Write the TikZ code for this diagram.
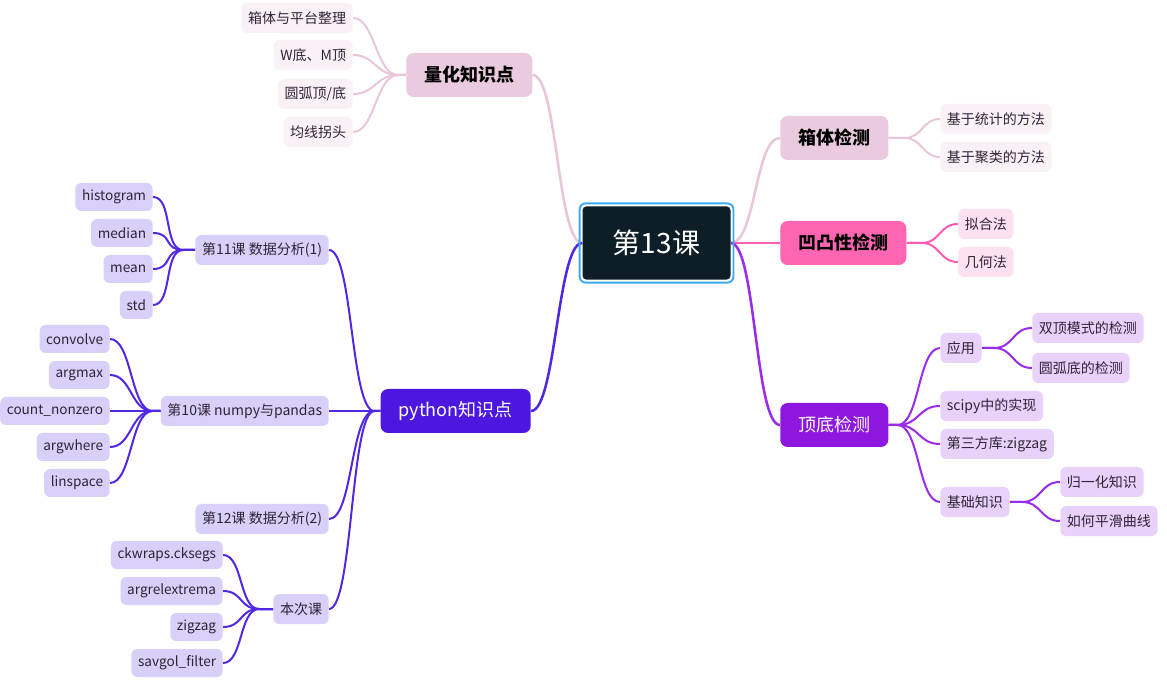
\documentclass[tikz,border=0pt]{standalone}
\usepackage{fontspec}
\setmainfont{Noto Sans CJK SC}
\usetikzlibrary{backgrounds}
\definecolor{pkline}{HTML}{E8C6DA}
\definecolor{pkmain}{HTML}{EACADE}
\definecolor{pkkid}{HTML}{FAF1F6}
\definecolor{hpline}{HTML}{FF5DB1}
\definecolor{hpmain}{HTML}{FE66B4}
\definecolor{hpkid}{HTML}{FDE1F0}
\definecolor{vline}{HTML}{9A2BEA}
\definecolor{vmain}{HTML}{8D17DF}
\definecolor{vkidc}{HTML}{E9D2F9}
\definecolor{bline}{HTML}{5028E4}
\definecolor{bmain}{HTML}{4C17DF}
\definecolor{bkidc}{HTML}{D9D0F9}
\definecolor{ctrfill}{HTML}{0E1E26}
\definecolor{ctrborder}{HTML}{3AA9F4}
\definecolor{kidtext}{HTML}{2E2438}
\newcommand{\mmL}[5]{\draw[#1] (#2.west) -- ++(-#4,0) .. controls +(-#5,0) and +(#5,0) .. (#3.east);}
\newcommand{\mmR}[5]{\draw[#1] (#2.east) -- ++(#4,0) .. controls +(#5,0) and +(-#5,0) .. (#3.west);}
\begin{document}
\begin{tikzpicture}[x=0.75pt,y=-0.75pt,
  kid/.style={rounded corners=4.5pt, minimum height=22.5pt, inner xsep=5pt, inner ysep=0pt, text=kidtext, font=\fontsize{10.5pt}{12pt}\selectfont},
  leaf/.style={kid, minimum height=21pt, font=\fontsize{10.2pt}{12pt}\selectfont},
  topic/.style={rounded corners=5.5pt, minimum height=33pt, inner xsep=13.5pt, inner ysep=0pt, font=\fontsize{13.5pt}{16pt}\selectfont},
  pkid/.style={kid, fill=pkkid},
  hkid/.style={kid, fill=hpkid},
  vkid/.style={kid, fill=vkidc},
  bkid/.style={kid, fill=bkidc},
  bleaf/.style={leaf, fill=bkidc},
  ptopic/.style={topic, fill=pkmain, text=black, font=\fontsize{13.5pt}{16pt}\selectfont\bfseries},
  htopic/.style={topic, fill=hpmain, text=black, font=\fontsize{13.5pt}{16pt}\selectfont\bfseries},
  vtopic/.style={topic, fill=vmain, text=white},
  btopic/.style={topic, fill=bmain, text=white},
  cp/.style={pkline, line width=1.5pt},
  ch/.style={hpline, line width=1.5pt},
  cv/.style={vline, line width=1.5pt},
  cb/.style={bline, line width=1.5pt},
  mainc/.style={line width=1.9pt}
]
\useasboundingbox (0,0) rectangle (1167,680);

% center
\node[fill=ctrfill, text=white, rounded corners=3pt, minimum width=111pt, minimum height=55pt,
  font=\fontsize{21pt}{24pt}\selectfont] (ctr) at (656.5,243) {第13课};
\draw[ctrborder, line width=1.4pt, rounded corners=4.5pt]
  ([xshift=-2pt,yshift=2pt]ctr.north west) rectangle ([xshift=2pt,yshift=-2pt]ctr.south east);

% 量化知识点
\node[ptopic, anchor=west] (lh) at (406,75) {量化知识点};
\node[pkid, anchor=east] (q1) at (353,18) {箱体与平台整理};
\node[pkid, anchor=east] (q2) at (353,55) {W底、M顶};
\node[pkid, anchor=east] (q3) at (353,94) {圆弧顶/底};
\node[pkid, anchor=east] (q4) at (353,132) {均线拐头};

% 箱体检测
\node[ptopic, anchor=west] (xt) at (780,138) {箱体检测};
\node[pkid, anchor=west] (x1) at (940,119) {基于统计的方法};
\node[pkid, anchor=west] (x2) at (940,157) {基于聚类的方法};

% 凹凸性检测
\node[htopic, anchor=west] (ao) at (780,243) {凹凸性检测};
\node[hkid, anchor=west] (a1) at (958,224) {拟合法};
\node[hkid, anchor=west] (a2) at (958,262) {几何法};

% 顶底检测
\node[vtopic, anchor=west] (dd) at (780,425) {顶底检测};
\node[vkid, anchor=west] (d1) at (940,348) {应用};
\node[vkid, anchor=west] (d11) at (1032,328) {双顶模式的检测};
\node[vkid, anchor=west] (d12) at (1032,368) {圆弧底的检测};
\node[vkid, anchor=west] (d2) at (940,406) {scipy中的实现};
\node[vkid, anchor=west] (d3) at (940,444) {第三方库:zigzag};
\node[vkid, anchor=west] (d4) at (940,502) {基础知识};
\node[vkid, anchor=west] (d41) at (1060,482) {归一化知识};
\node[vkid, anchor=west] (d42) at (1060,521) {如何平滑曲线};

% python知识点
\node[btopic, anchor=east] (py) at (531,411) {python知识点};
\node[bkid, anchor=east] (b1) at (329,250) {第11课 数据分析(1)};
\node[bleaf, anchor=east] (b11) at (153,197) {histogram};
\node[bleaf, anchor=east] (b12) at (153,233) {median};
\node[bleaf, anchor=east] (b13) at (153,269) {mean};
\node[bleaf, anchor=east] (b14) at (153,305) {std};
\node[bkid, anchor=east] (b2) at (329,411) {第10课 numpy与pandas};
\node[bleaf, anchor=east] (b21) at (110,339) {convolve};
\node[bleaf, anchor=east] (b22) at (110,375) {argmax};
\node[bleaf, anchor=east] (b23) at (110,411) {count\_nonzero};
\node[bleaf, anchor=east] (b24) at (110,447) {argwhere};
\node[bleaf, anchor=east] (b25) at (110,483) {linspace};
\node[bkid, anchor=east] (b3) at (329,519) {第12课 数据分析(2)};
\node[bkid, anchor=east] (b4) at (329,609) {本次课};
\node[bleaf, anchor=east] (b41) at (223,555) {ckwraps.cksegs};
\node[bleaf, anchor=east] (b42) at (223,591) {argrelextrema};
\node[bleaf, anchor=east] (b43) at (223,627) {zigzag};
\node[bleaf, anchor=east] (b44) at (223,663) {savgol\_filter};

\begin{scope}[on background layer]
  % center connectors
  \draw[cp, mainc] (ctr.west) .. controls +(-25,0) and +(25,0) .. (lh.east);
  \draw[cb, mainc] (ctr.west) .. controls +(-25,0) and +(25,0) .. (py.east);
  \draw[cp, mainc] (ctr.east) .. controls +(25,0) and +(-25,0) .. (xt.west);
  \draw[ch, mainc] (ctr.east) -- (ao.west);
  \draw[cv, mainc] (ctr.east) .. controls +(25,0) and +(-25,0) .. (dd.west);
  % 量化
  \mmL{cp}{lh}{q1}{8}{22}
  \mmL{cp}{lh}{q2}{8}{22}
  \mmL{cp}{lh}{q3}{8}{22}
  \mmL{cp}{lh}{q4}{8}{22}
  % 箱体
  \mmR{cp}{xt}{x1}{16}{18}
  \mmR{cp}{xt}{x2}{16}{18}
  % 凹凸
  \mmR{ch}{ao}{a1}{15}{19}
  \mmR{ch}{ao}{a2}{15}{19}
  % 顶底
  \mmR{cv}{dd}{d1}{9}{22}
  \mmR{cv}{dd}{d2}{9}{22}
  \mmR{cv}{dd}{d3}{9}{22}
  \mmR{cv}{dd}{d4}{9}{22}
  \mmR{cv}{d1}{d11}{12}{20}
  \mmR{cv}{d1}{d12}{12}{20}
  \mmR{cv}{d4}{d41}{12}{20}
  \mmR{cv}{d4}{d42}{12}{20}
  % python
  \mmL{cb}{py}{b1}{6}{24}
  \mmL{cb}{py}{b2}{6}{24}
  \mmL{cb}{py}{b3}{6}{24}
  \mmL{cb}{py}{b4}{6}{24}
  \mmL{cb}{b1}{b11}{12}{20}
  \mmL{cb}{b1}{b12}{12}{20}
  \mmL{cb}{b1}{b13}{12}{20}
  \mmL{cb}{b1}{b14}{12}{20}
  \mmL{cb}{b2}{b21}{8}{22}
  \mmL{cb}{b2}{b22}{8}{22}
  \mmL{cb}{b2}{b23}{8}{22}
  \mmL{cb}{b2}{b24}{8}{22}
  \mmL{cb}{b2}{b25}{8}{22}
  \mmL{cb}{b4}{b41}{14}{20}
  \mmL{cb}{b4}{b42}{14}{20}
  \mmL{cb}{b4}{b43}{14}{20}
  \mmL{cb}{b4}{b44}{14}{20}
\end{scope}
\end{tikzpicture}
\end{document}
